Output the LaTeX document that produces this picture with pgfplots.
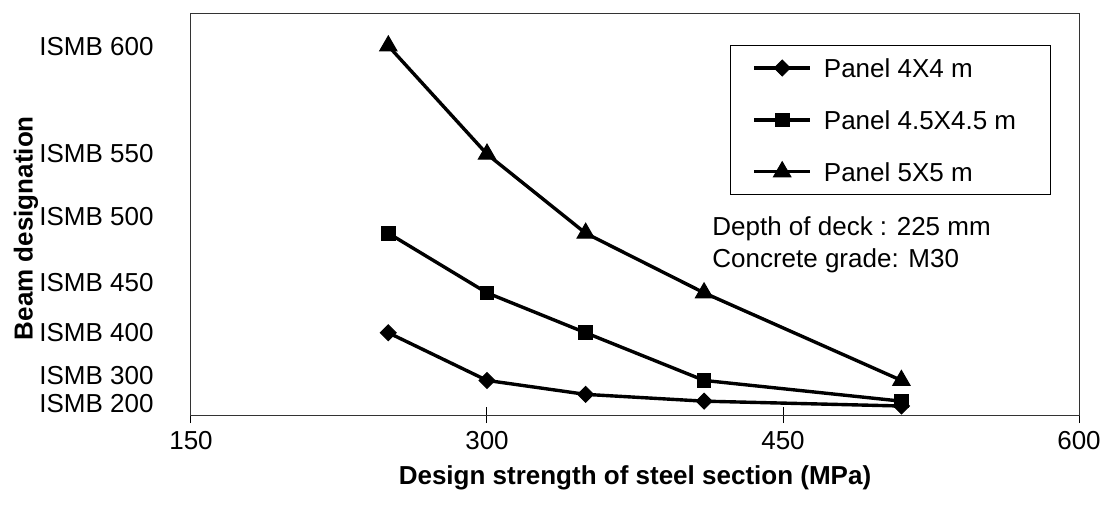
\documentclass[border=0pt]{standalone}
\usepackage{pgfplots}
\pgfplotsset{compat=1.18}
\usepackage{fontspec}
\setmainfont{Liberation Sans}
\begin{document}
\begin{tikzpicture}
\useasboundingbox (-95.5pt,-45pt) rectangle (456.5pt,207.5pt);
\begin{axis}[
  scale only axis,
  width=444pt, height=201pt,
  xmin=150, xmax=600, ymin=0, ymax=100000,
  scaled y ticks=false, scaled x ticks=false,
  axis line style={draw=black!80, line width=0.5pt},
  xtick={150,300,450,600},
  xticklabels={150,300,450,600},
  ytick={2736,9701,20398,32836,49254,64925,91542},
  yticklabels={ISMB 200,ISMB 300,ISMB 400,ISMB 450,ISMB 500,ISMB 550,ISMB 600},
  ytick style={draw=none},
  xtick style={draw=black, line width=0.5pt},
  tick align=center,
  major tick length=8pt,
  xtick pos=bottom,
  yticklabel style={font=\fontsize{13}{15}\selectfont, inner sep=0pt, anchor=east, xshift=-14.5pt},
  xticklabel style={font=\fontsize{13}{15}\selectfont, inner sep=0pt, anchor=north, yshift=-4pt},
  xlabel={Design strength of steel section (MPa)},
  ylabel={Beam designation},
  xlabel style={font=\fontsize{13}{15}\selectfont\bfseries, at={([yshift=-31.5pt]axis description cs:0.5,0)}, anchor=center},
  ylabel style={font=\fontsize{13}{15}\selectfont\bfseries, at={([xshift=-82.5pt]axis description cs:0,0.465)}, anchor=center, rotate=0},
  legend cell align=left,
  legend image code/.code={\draw[mark repeat=2,mark phase=2,#1] plot coordinates {(0pt,0pt) (14pt,0pt) (28pt,0pt)};},
  legend style={at={(axis description cs:0.607,0.920)}, anchor=north west, draw=black, line width=0.5pt,
    font=\fontsize{13}{15}\selectfont, inner xsep=11pt, inner ysep=4.5pt, row sep=12.5pt,
    nodes={inner xsep=6pt, text depth=0pt}},
]
\addplot[black, line width=1.7pt, mark=square*, mark size=2.8pt, mark options={rotate=45, solid, line width=0.5pt}]
  table {
  x y
  250 20458
  300 8603
  350 5132
  410 3442
  510 2235
  };
\addlegendentry{Panel 4X4 m}
\addplot[black, line width=1.7pt, mark=square*, mark size=3.4pt, mark options={solid, line width=0.5pt}]
  table {
  x y
  250 45218
  300 30390
  350 20458
  410 8603
  510 3442
  };
\addlegendentry{Panel 4.5X4.5 m}
\addplot[black, line width=1.7pt, mark=triangle*, mark size=5pt, mark options={solid, line width=0.5pt}]
  table {
  x y
  250 91813
  300 64894
  350 45218
  410 30390
  510 8603
  };
\addlegendentry{Panel 5X5 m}
\node[anchor=base west, font=\fontsize{13}{15}\selectfont, inner sep=0pt] at (axis cs:414,44776) {Depth of deck : 225 mm};
\node[anchor=base west, font=\fontsize{13}{15}\selectfont, inner sep=0pt] at (axis cs:414,36816) {Concrete grade: M30};
\end{axis}
\end{tikzpicture}
\end{document}
